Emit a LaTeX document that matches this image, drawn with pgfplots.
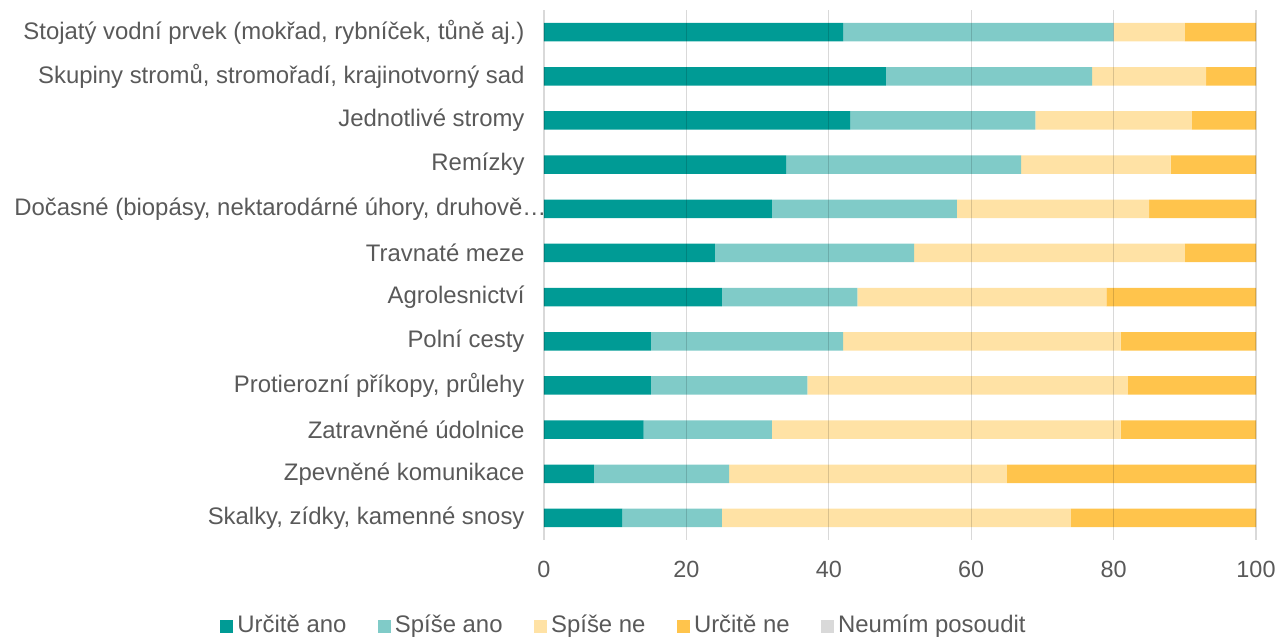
\documentclass[border=0pt]{standalone}
\usepackage{pgfplots}
\usepackage{pgfplotstable}
\pgfplotsset{compat=1.18}
\usepackage{fontspec}
\setmainfont{Liberation Sans}
\definecolor{cA}{HTML}{009B95}
\definecolor{cB}{HTML}{80CBC8}
\definecolor{cC}{HTML}{FFE2A5}
\definecolor{cD}{HTML}{FFC44C}
\definecolor{cE}{HTML}{D9D9D9}
\definecolor{txt}{HTML}{595959}
\pgfplotstableread{
idx a b c d
0 42 38 10 10
1 48 29 16 7
2 43 26 22 9
3 34 33 21 12
4 32 26 27 15
5 24 28 38 10
6 25 19 35 21
7 15 27 39 19
8 15 22 45 18
9 14 18 49 19
10 7 19 39 35
11 11 14 49 26
}\data
\begin{document}
\begin{tikzpicture}
\path[use as bounding box] (-544bp,-99bp) rectangle (735bp,540bp);
\begin{axis}[
  at={(0,0)}, anchor=south west,
  scale only axis, width=712bp, height=530bp,
  xbar stacked, bar width=18.5bp,
  xmin=0, xmax=100, ymin=-0.5, ymax=11.5,
  y dir=reverse,
  xtick={0,20,...,100},
  ytick={0,...,11},
  yticklabels={{Stojatý vodní prvek (mokřad, rybníček, tůně aj.)},
    {Skupiny stromů, stromořadí, krajinotvorný sad},
    {Jednotlivé stromy},{Remízky},
    {Dočasné (biopásy, nektarodárné úhory, druhově…\hspace*{-22bp}},
    {Travnaté meze},{Agrolesnictví},{Polní cesty},
    {Protierozní příkopy, průlehy},{Zatravněné údolnice},
    {Zpevněné komunikace},{Skalky, zídky, kamenné snosy}},
  major tick length=0pt,
  axis line style={draw=none},
  xmajorgrids, major grid style={black, opacity=0.15, line width=1.3bp},
  axis on top,
  /pgf/number format/assume math mode=true,
  yticklabel style={font=\fontsize{24}{28}\selectfont, text=txt, xshift=-16bp},
  xticklabel style={font=\fontsize{23.5}{28}\selectfont, text=txt, yshift=-18bp},
  legend columns=5,
  legend style={at={(0.1110,-0.1623)}, anchor=center, draw=none,
    font=\fontsize{24}{28}\selectfont, text=txt,
    nodes={inner sep=0pt, text height=17bp, text depth=5bp},
    /tikz/every odd column/.append style={column sep=4bp},
    /tikz/every even column/.append style={column sep=31.5bp}},
  legend image code/.code={\fill[#1] (0bp,-6.5bp) rectangle (13bp,6.5bp);},
]
\addplot[fill=cA, draw=none] table[x=a, y=idx] {\data};
\addplot[fill=cB, draw=none] table[x=b, y=idx] {\data};
\addplot[fill=cC, draw=none] table[x=c, y=idx] {\data};
\addplot[fill=cD, draw=none] table[x=d, y=idx] {\data};
\addlegendimage{fill=cE, draw=none}
\legend{Určitě ano, Spíše ano, Spíše ne, Určitě ne, Neumím posoudit}
\end{axis}
\end{tikzpicture}
\end{document}
